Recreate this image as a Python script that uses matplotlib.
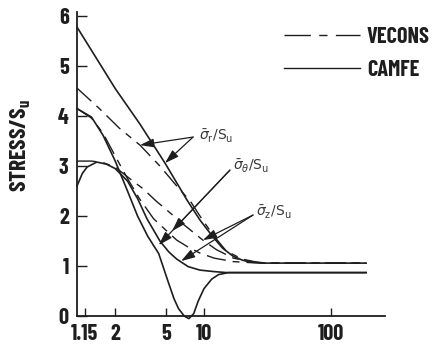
import numpy as np
import matplotlib
matplotlib.use("Agg")
import matplotlib.pyplot as plt
from matplotlib.lines import Line2D

narrow = ["Barlow Condensed", "Roboto Condensed", "Archivo Narrow", "DejaVu Sans"]
plt.rcParams["font.family"] = narrow
plt.rcParams["lines.scale_dashes"] = False

# radial distance (log axis) and normalised stresses, CAMFE = solid, VECONS = dashed
sr_camfe_x = [1.0, 2.0, 3.13, 4.93, 7.35, 9.3, 11.8, 14.0, 16.9, 20, 23, 29, 189]
sr_camfe_y = [5.78, 4.55, 3.84, 3.06, 2.32, 1.92, 1.58, 1.36, 1.2, 1.12, 1.08, 1.06, 1.06]

sr_vecons_x = [1.0, 1.5, 2.15, 3.13, 4.5, 6.2, 7.8, 9.3, 11.8, 15, 20, 26, 32, 189]
sr_vecons_y = [4.56, 4.15, 3.76, 3.42, 3.0, 2.58, 2.3, 2.0, 1.62, 1.3, 1.14, 1.08, 1.06, 1.06]

st_camfe_x = [1.0, 1.3, 1.6, 2.0, 2.5, 3.0, 3.6, 4.4, 5.2, 5.8, 6.3, 7.0, 7.6, 8.3, 9.0, 10, 11.5, 13, 15.5, 189]
st_camfe_y = [4.15, 3.98, 3.62, 3.1, 2.5, 2.0, 1.6, 1.25, 0.7, 0.35, 0.15, 0.0, -0.05, 0.05, 0.3, 0.55, 0.74, 0.83, 0.87, 0.87]

st_vecons_x = [1.0, 1.3, 1.6, 2.0, 2.5, 3.1, 4.0, 5.0, 6.1, 7.5, 9.3, 12, 17, 23, 30, 189]
st_vecons_y = [4.15, 3.96, 3.66, 3.2, 2.75, 2.35, 1.95, 1.72, 1.52, 1.38, 1.26, 1.16, 1.09, 1.07, 1.06, 1.06]

sz_camfe_x = [1.0, 1.1, 1.2, 1.43, 1.7, 2.0, 2.5, 3.0, 3.55, 4.5, 5.3, 6.1, 7.5, 9.3, 12, 15.2, 189]
sz_camfe_y = [2.6, 2.85, 2.98, 3.08, 3.04, 2.95, 2.7, 2.35, 1.95, 1.5, 1.28, 1.14, 0.99, 0.92, 0.89, 0.87, 0.87]

sz_vecons_x = [1.0, 1.3, 1.6, 2.0, 2.6, 3.3, 4.2, 5.1, 7.0, 9.8, 12.5, 17, 23, 30, 189]
sz_vecons_y = [3.1, 3.1, 3.07, 2.98, 2.75, 2.55, 2.3, 2.12, 1.82, 1.52, 1.33, 1.16, 1.09, 1.06, 1.06]

xticks = [1.15, 2, 5, 10, 100]
xtick_labels = ["1.15", "2", "5", "10", "100"]
yticks = [0, 1, 2, 3, 4, 5, 6]

ink = "#1e1e1e"
dash = (14, 5, 5, 5)

fig = plt.figure(figsize=(4.35, 3.54), dpi=100)
ax = fig.add_axes([0.177, 0.107, 0.708, 0.859])

for x, y in [(sr_camfe_x, sr_camfe_y), (st_camfe_x, st_camfe_y), (sz_camfe_x, sz_camfe_y)]:
    ax.plot(x, y, color=ink, lw=1.2, clip_on=False)
for x, y in [(sr_vecons_x, sr_vecons_y), (st_vecons_x, st_vecons_y), (sz_vecons_x, sz_vecons_y)]:
    ax.plot(x, y, color=ink, lw=1.0, dashes=dash, clip_on=False)

ax.set_xscale("log")
ax.set_xlim(1.0, 266)
ax.set_ylim(0, 6.08)
ax.set_xticks(xticks)
ax.set_xticklabels(xtick_labels)
ax.minorticks_off()
ax.set_yticks(yticks)
ax.tick_params(axis="both", direction="in", color=ink, labelcolor=ink, labelsize=16, width=1.0)
ax.tick_params(axis="x", length=6, pad=6)
ax.tick_params(axis="y", length=7, pad=6)
for lab in ax.get_xticklabels() + ax.get_yticklabels():
    lab.set_fontweight("bold")
for s in ["top", "right"]:
    ax.spines[s].set_visible(False)
for s in ["left", "bottom"]:
    ax.spines[s].set_color(ink)
    ax.spines[s].set_linewidth(1.3)

fig.text(0.048, 0.59, r"STRESS/S$_\mathregular{u}$", rotation=90, ha="center", va="center",
         fontsize=17, fontweight="bold", color=ink)

# legend
handles = [Line2D([], [], color=ink, lw=1.0, dashes=(19, 6, 6, 6)),
           Line2D([], [], color=ink, lw=1.0)]
ax.legend(handles, ["VECONS", "CAMFE"], loc="upper left", bbox_to_anchor=(0.652, 0.925),
          bbox_transform=fig.transFigure, borderpad=0, borderaxespad=0,
          frameon=False, handlelength=3.45, handletextpad=0.3, labelspacing=0.6,
          prop={"size": 16, "weight": "bold"}, labelcolor=ink)

# labels with pointer arrows
arrow = dict(arrowstyle="-|>,head_length=0.7,head_width=0.22", color=ink, lw=0.9,
             shrinkA=0, shrinkB=0, mutation_scale=12)
labels = [
    (r"$\bar{\sigma}_\mathregular{r}/\mathregular{S}_\mathregular{u}$", (9.1, 3.6), (8.2, 3.58), [(3.13, 3.42), (4.93, 3.06)]),
    (r"$\bar{\sigma}_\theta/\mathregular{S}_\mathregular{u}$", (16.8, 3.0), (16.0, 2.92), [(5.6, 1.7), (4.4, 1.42)]),
    (r"$\bar{\sigma}_\mathregular{z}/\mathregular{S}_\mathregular{u}$", (25.6, 2.08), (24.3, 2.02), [(9.8, 1.52), (6.6, 1.1)]),
]
for txt, pos, origin, targets in labels:
    ax.text(pos[0], pos[1], txt, ha="left", va="center", fontsize=10, color="#3a3a3a",
            family="DejaVu Sans", fontweight="normal", math_fontfamily="dejavusans")
    for t in targets:
        ax.annotate("", xy=t, xytext=origin, arrowprops=arrow)

fig.savefig("out.png", dpi=100)
